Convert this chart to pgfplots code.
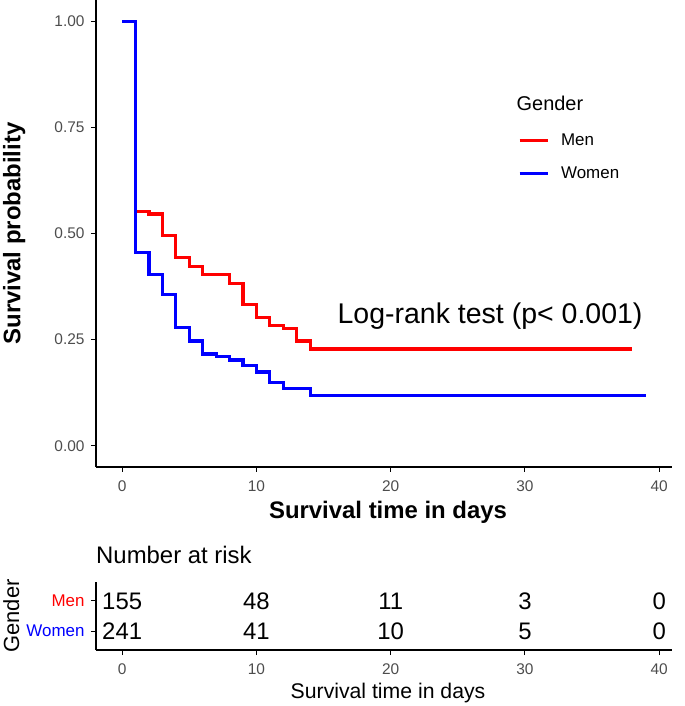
\documentclass[border=0pt]{standalone}
\usepackage{fontspec}
\setmainfont{Liberation Sans}
\usepackage{pgfplots}
\pgfplotsset{compat=1.18}
\definecolor{tickgray}{HTML}{4D4D4D}

\pgfplotsset{
  km/.style={
    scale only axis, width=576bp,
    xmin=-1.95, xmax=40.95,
    axis x line*=bottom, axis y line*=left,
    axis line style={line width=1.1bp, black},
    xtick={0,10,20,30,40},
    tick align=outside, major tick length=5bp,
    tick style={line width=1bp, black},
    /pgf/number format/assume math mode=true,
    xticklabel style={font=\fontsize{15.5}{15.5}\selectfont, text=tickgray, yshift=-5bp},
  },
}

\begin{document}
\begin{tikzpicture}
\useasboundingbox (-96bp,-239bp) rectangle (589bp,467bp);

% survival curves
\begin{axis}[km,
  at={(0,0)}, anchor=south west,
  height=467bp,
  ymin=-0.05, ymax=1.05,
  ytick={0,0.25,0.5,0.75,1},
  yticklabel style={font=\fontsize{15.5}{15.5}\selectfont, text=tickgray, xshift=-3bp,
    /pgf/number format/.cd, fixed, fixed zerofill, precision=2},
  xlabel={\textbf{Survival time in days}},
  xlabel style={font=\fontsize{24}{24}\selectfont,
    at={(axis description cs:0.507,-0.111)}, anchor=base},
  ylabel={\textbf{Survival probability}},
  ylabel style={font=\fontsize{24}{24}\selectfont,
    at={(axis description cs:-0.142,0.5)}, anchor=center},
  legend style={at={(axis description cs:0.727,0.722)}, anchor=north west,
    draw=none, fill=none, font=\fontsize{17}{17}\selectfont, row sep=16bp,
    /tikz/every odd column/.append style={column sep=10bp}},
  legend cell align=left,
  legend image code/.code={\draw[#1] (0bp,0bp) -- (28bp,0bp);},
]
\addplot[const plot, red, line width=3.2bp] table {
x y
0 1
1 0.552
2 0.546
3 0.495
4 0.444
5 0.4225
6 0.403
8 0.382
9 0.333
10 0.302
11 0.284
12 0.276
13 0.247
14 0.228
38 0.228
};
\addlegendentry{Men}
\addplot[const plot, blue, line width=3.2bp] table {
x y
0 1
1 0.456
2 0.404
3 0.356
4 0.279
5 0.247
6 0.216
7 0.210
8 0.202
9 0.190
10 0.174
11 0.149
12 0.135
14 0.118
39 0.118
};
\addlegendentry{Women}
\node[anchor=base west, inner sep=0pt, font=\fontsize{20}{20}\selectfont] at (axis cs:29.37,0.789) {Gender};
\node[anchor=base, font=\fontsize{28.6}{28.6}\selectfont] at (axis cs:27.4,0.289) {Log-rank test (p< 0.001)};
\end{axis}

% number at risk table
\begin{axis}[km,
  at={(0,-183bp)}, anchor=south west,
  height=68bp,
  ymin=0.367, ymax=2.633,
  ytick={1,2},
  yticklabels={\textcolor{blue}{Women},\textcolor{red}{Men}},
  yticklabel style={font=\fontsize{17}{17}\selectfont, xshift=-3bp},
  title={Number at risk},
  title style={font=\fontsize{24}{24}\selectfont, inner sep=0pt,
    at={(axis description cs:0,1)}, anchor=base west, yshift=13bp},
  xlabel={Survival time in days},
  xlabel style={font=\fontsize{21.3}{21.3}\selectfont,
    at={(axis description cs:0.507,-0.72)}, anchor=base},
  ylabel={Gender},
  ylabel style={font=\fontsize{22}{22}\selectfont,
    at={(axis description cs:-0.147,0.5)}, anchor=center},
]
\addplot[draw=none, mark=none, nodes near coords, point meta=explicit symbolic,
  nodes near coords style={anchor=center, text=black, font=\fontsize{24}{24}\selectfont}]
  table[meta=n] {
x y n
0 2 155
10 2 48
20 2 11
30 2 3
40 2 0
0 1 241
10 1 41
20 1 10
30 1 5
40 1 0
};
\end{axis}
\end{tikzpicture}
\end{document}
